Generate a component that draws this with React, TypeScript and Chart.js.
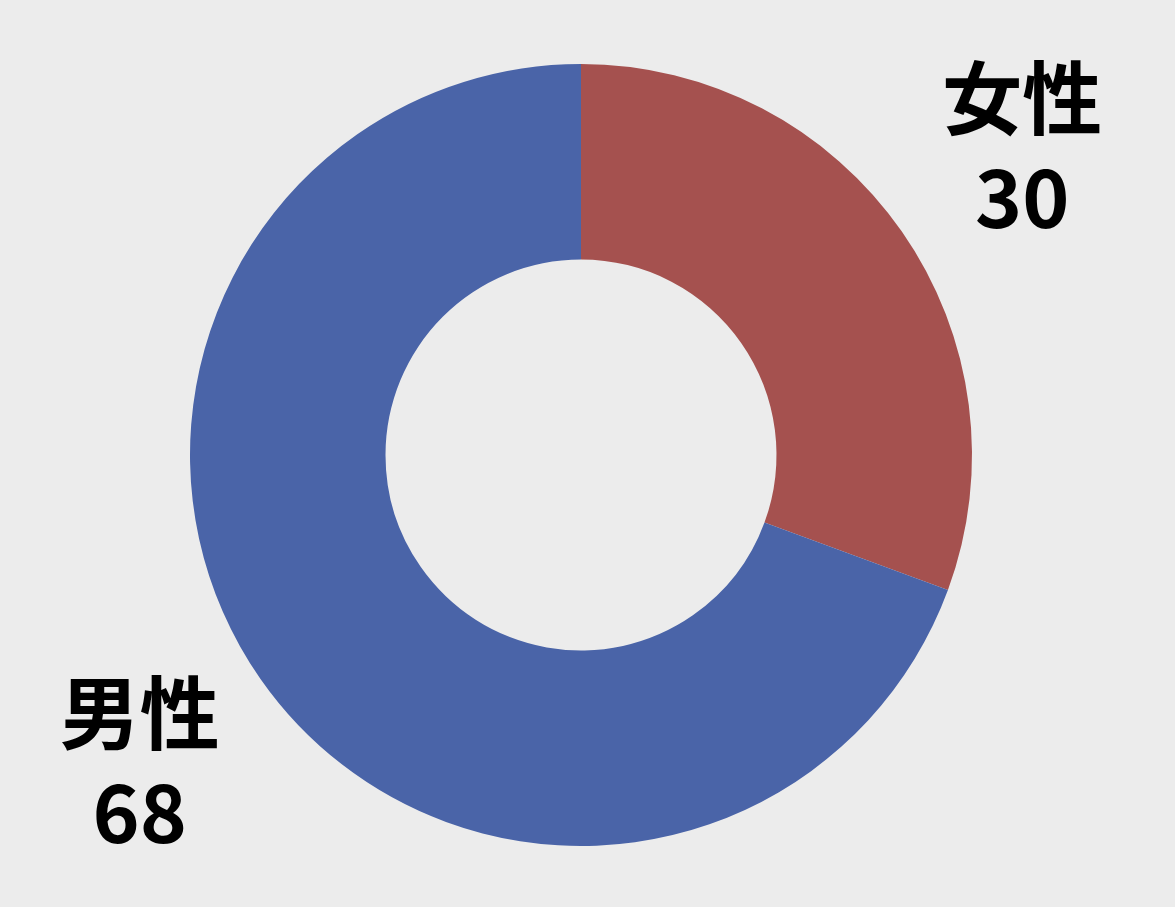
import React, { useEffect, useRef } from 'react';
import Chart from 'chart.js/auto';

const categories = ['女性', '男性'];
const values = [30, 68];
const sliceColors = ['#A5514F', '#4A64A8'];

// draws "name / value" outside each slice, along the slice's middle angle
const outsideLabels = {
  id: 'outsideLabels',
  afterDatasetsDraw(chart: any) {
    const { ctx } = chart;
    const meta = chart.getDatasetMeta(0);
    ctx.save();
    ctx.fillStyle = '#000000';
    ctx.font = 'bold 80px "Noto Sans CJK JP", "Noto Sans", sans-serif';
    ctx.textAlign = 'center';
    ctx.textBaseline = 'middle';
    meta.data.forEach((arc: any, i: number) => {
      const { x, y, startAngle, endAngle, outerRadius } = arc.getProps(
        ['x', 'y', 'startAngle', 'endAngle', 'outerRadius'],
        true
      );
      const mid = (startAngle + endAngle) / 2;
      const r = outerRadius * 1.376;
      const lx = x + Math.cos(mid) * r;
      const ly = y + Math.sin(mid) * r;
      ctx.fillText(categories[i], lx, ly - 50);
      ctx.fillText(String(values[i]), lx, ly + 50);
    });
    ctx.restore();
  },
};

const App: React.FC = () => {
  const chartRef = useRef<HTMLCanvasElement | null>(null);
  const chartInstance = useRef<Chart | null>(null);

  useEffect(() => {
    document.body.style.margin = '0';
    document.body.style.background = '#ECECEC';
    if (!chartRef.current) return;
    if (chartInstance.current) chartInstance.current.destroy();

    chartInstance.current = new Chart(chartRef.current, {
      type: 'doughnut',
      data: {
        labels: categories,
        datasets: [
          {
            data: values,
            backgroundColor: sliceColors,
            borderWidth: 0,
          },
        ],
      },
      options: {
        animation: false,
        responsive: false,
        cutout: '50%',
        layout: { padding: { top: 64, bottom: 61, left: 0, right: 13 } },
        plugins: {
          legend: { display: false },
          tooltip: { enabled: false },
        },
      },
      plugins: [outsideLabels],
    } as any);

    return () => {
      if (chartInstance.current) {
        chartInstance.current.destroy();
        chartInstance.current = null;
      }
    };
  }, []);

  return (
    <div style={{ width: 1175, height: 907, background: '#ECECEC' }}>
      <canvas ref={chartRef} width={1175} height={907} style={{ display: 'block' }} />
    </div>
  );
};

export default App;
